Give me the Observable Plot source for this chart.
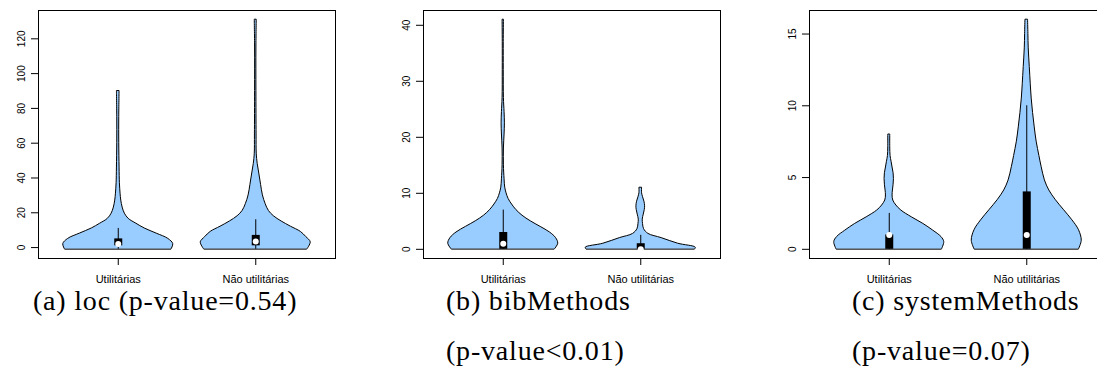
<!DOCTYPE html>
<html><head><meta charset="utf-8">
<script src="https://cdn.jsdelivr.net/npm/d3@7"></script>
<script src="https://cdn.jsdelivr.net/npm/@observablehq/plot@0.6"></script>
<style>
html,body{margin:0;padding:0;background:#fff;}
body{width:1097px;height:376px;overflow:hidden;position:relative;}
.panel{position:absolute;top:0;width:370px;height:300px;}
.panel svg{max-width:none !important;}
.cap{position:absolute;font-family:"Liberation Serif","Times New Roman",serif;font-size:28px;letter-spacing:0.8px;line-height:20px;white-space:nowrap;color:#000;}
</style></head><body>
<div id="p1" class="panel" style="left:0px"></div>
<div id="p2" class="panel" style="left:385px"></div>
<div id="p3" class="panel" style="left:771px"></div>
<div class="cap" style="left:33px;top:291px">(a) loc (p-value=0.54)</div>
<div class="cap" style="left:446px;top:291px">(b) bibMethods</div>
<div class="cap" style="left:446px;top:341px">(p-value&lt;0.01)</div>
<div class="cap" style="left:852px;top:291px">(c) systemMethods</div>
<div class="cap" style="left:852px;top:341px">(p-value=0.07)</div>
<script>
// categories
const categories = ["Utilitárias", "Não utilitárias"];

// violin outlines: value, relative half-width (1 = widest)
const locUtilValues   = [-1, 2, 5, 8, 11, 13.7, 16.5, 19.5, 23, 27, 31, 37, 46, 60, 75, 90];
const locUtilWidths   = [0.97, 1, 0.91, 0.70, 0.48, 0.33, 0.19, 0.12, 0.08, 0.055, 0.042, 0.03, 0.024, 0.018, 0.018, 0.024];
const locNonValues    = [-1, 3, 6, 9, 12, 15, 18, 21, 25, 30, 36, 42, 48, 54, 65, 90, 115, 131];
const locNonWidths    = [0.94, 1, 0.92, 0.82, 0.64, 0.47, 0.33, 0.24, 0.18, 0.13, 0.097, 0.067, 0.036, 0.018, 0.015, 0.012, 0.012, 0.018];

const bibUtilValues   = [0, 1, 2, 3, 4, 5, 6, 7, 8, 9, 10, 11, 12.5, 15, 18, 20.5, 22.5, 24.5, 27, 32, 37, 41];
const bibUtilWidths   = [0.94, 1, 0.96, 0.85, 0.68, 0.50, 0.35, 0.24, 0.16, 0.097, 0.06, 0.036, 0.024, 0.012, 0.012, 0.024, 0.03, 0.024, 0.012, 0.009, 0.009, 0.012];
const bibNonValues    = [0, 0.3, 1, 2, 2.75, 3.6, 4.5, 5.3, 6.2, 7, 7.7, 8.5, 9.3, 10, 11];
const bibNonWidths    = [0.99, 1, 0.68, 0.38, 0.14, 0.06, 0.042, 0.036, 0.055, 0.073, 0.079, 0.067, 0.042, 0.024, 0.024];

const sysUtilValues   = [0, 0.5, 0.85, 1.3, 1.77, 2.23, 2.7, 3.05, 3.4, 3.75, 4.1, 4.5, 4.9, 5.3, 5.7, 6.1, 6.5, 7.1, 8];
const sysUtilWidths   = [0.96, 1, 0.95, 0.80, 0.62, 0.41, 0.22, 0.13, 0.073, 0.06, 0.067, 0.079, 0.085, 0.079, 0.06, 0.042, 0.024, 0.018, 0.018];
const sysNonValues    = [0, 0.6, 1.33, 2.02, 2.72, 3.42, 4.1, 4.8, 5.75, 6.5, 7.5, 8.5, 9.5, 10.5, 11.5, 12.7, 14, 15, 16];
const sysNonWidths    = [0.95, 1, 0.95, 0.83, 0.68, 0.53, 0.41, 0.33, 0.27, 0.23, 0.18, 0.145, 0.115, 0.09, 0.073, 0.055, 0.036, 0.03, 0.024];

// box plot summaries per category [Utilitárias, Não utilitárias]
const locQ1 = [1, 1],   locQ3 = [5, 7], locMedian = [2, 3.5], locLow = [-1, -1], locHigh = [11, 16];
const bibQ1 = [0, 0],   bibQ3 = [3, 1], bibMedian = [1, 0],   bibLow = [0, 0],   bibHigh = [7, 2.5];
const sysQ1 = [0, 0],   sysQ3 = [1, 4], sysMedian = [1, 1],   sysLow = [0, 0],   sysHigh = [2.5, 10];

// y tick labels
const locTicks = [0, 20, 40, 60, 80, 100, 120];
const bibTicks = [0, 10, 20, 30, 40];
const sysTicks = [0, 5, 10, 15];

function drawPanel(id, violins, q1, q3, med, lo, hi, ticks) {
  const rows = violins.flatMap(([vals, ws], i) => vals.map((v, j) => ({cat: i + 1, y: v, w: ws[j]})));
  const boxes = categories.map((c, i) => ({cat: i + 1, q1: q1[i], q3: q3[i], med: med[i], lo: lo[i], hi: hi[i]}));
  const ext = d3.extent(rows, d => d.y);
  const pad = 0.04 * (ext[1] - ext[0]);
  const chart = Plot.plot({
    width: 370, height: 300,
    marginLeft: 38, marginRight: 35, marginTop: 10, marginBottom: 42,
    x: {domain: [0.42, 2.58], axis: null},
    y: {domain: [ext[0] - pad, ext[1] + pad], axis: null},
    style: {fontFamily: "'Liberation Sans', Arial, sans-serif", background: "#fff", color: "#000", maxWidth: "none"},
    marks: [
      Plot.areaX(rows, {y: "y", x1: d => d.cat - 0.4 * d.w, x2: d => d.cat + 0.4 * d.w, z: "cat",
        fill: "#99ccff", stroke: "#000", strokeWidth: 1, curve: "catmull-rom"}),
      Plot.ruleX(boxes, {x: "cat", y1: "lo", y2: "hi", stroke: "#000", strokeWidth: 1}),
      Plot.ruleX(boxes, {x: "cat", y1: "q1", y2: "q3", stroke: "#000", strokeWidth: 8}),
      Plot.dot(boxes, {x: "cat", y: "med", r: 3, fill: "#fff", stroke: null}),
      Plot.frame({stroke: "#000", strokeWidth: 1}),
      Plot.axisX({ticks: [1, 2], tickFormat: d => categories[d - 1], tickSize: 7, tickPadding: 10, fontSize: 11, label: null, stroke: "#000"}),
      Plot.axisY({ticks, tickSize: 7, tickFormat: () => "", label: null, stroke: "#000"}),
      Plot.text(ticks, {y: d => d, text: d => String(d), frameAnchor: "left", dx: -17, rotate: -90,
        textAnchor: "middle", lineAnchor: "middle", fontSize: 10, fill: "#000"})
    ]
  });
  document.getElementById(id).appendChild(chart);
}

drawPanel("p1", [[locUtilValues, locUtilWidths], [locNonValues, locNonWidths]], locQ1, locQ3, locMedian, locLow, locHigh, locTicks);
drawPanel("p2", [[bibUtilValues, bibUtilWidths], [bibNonValues, bibNonWidths]], bibQ1, bibQ3, bibMedian, bibLow, bibHigh, bibTicks);
drawPanel("p3", [[sysUtilValues, sysUtilWidths], [sysNonValues, sysNonWidths]], sysQ1, sysQ3, sysMedian, sysLow, sysHigh, sysTicks);
</script>
</body></html>
